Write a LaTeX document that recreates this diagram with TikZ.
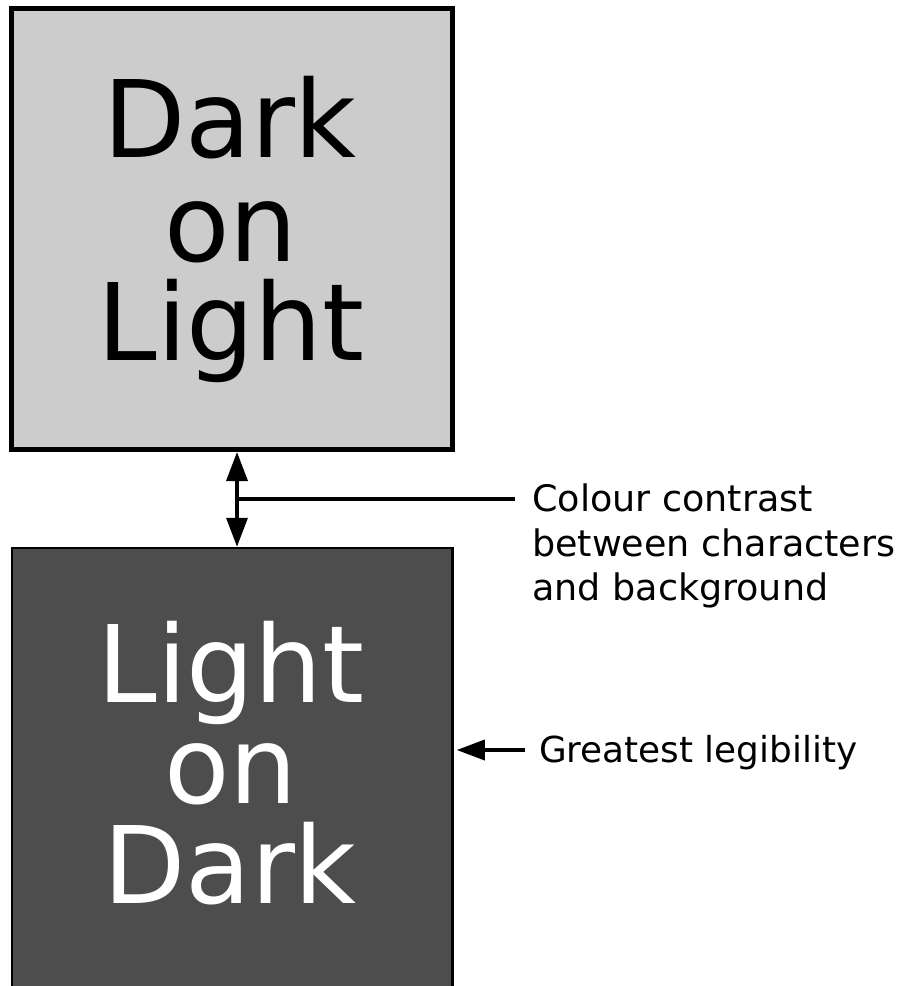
\documentclass[tikz,border=0pt]{standalone}
\usepackage{fontspec}
\setmainfont{DejaVu Sans}
\usetikzlibrary{arrows.meta}
\definecolor{lightfill}{HTML}{CCCCCC}
\definecolor{darkfill}{HTML}{4D4D4D}
\begin{document}
\begin{tikzpicture}[x=1pt,y=-1pt,
  bigtxt/.style={inner sep=0pt, anchor=base, font=\fontsize{107}{107}\selectfont},
  lbl/.style={inner sep=0pt, anchor=base west, font=\fontsize{36.5}{36.5}\selectfont},
  lblg/.style={inner sep=0pt, anchor=base west, font=\fontsize{35.8}{35.8}\selectfont},
  tipend/.style={-{Triangle[length=28pt,width=20pt]}},
  tipboth/.style={{Triangle[length=29pt,width=21pt]}-{Triangle[length=29pt,width=21pt]}},
  conn/.style={line width=3.5pt}]
\useasboundingbox (0,0) rectangle (902,986);
\clip (0,0) rectangle (902,986);
% boxes
\node[draw, line width=5pt, fill=lightfill, minimum width=441pt, minimum height=441pt, inner sep=0pt] (top) at (232,229) {};
\node[draw, line width=2.5pt, fill=darkfill, minimum width=440.5pt, minimum height=462pt, inner sep=0pt] (bot) at (232.25,779) {};
% texts in boxes
\node[bigtxt] (t1) at (230,157) {Dark};
\node[bigtxt] (t2) at (231,261) {on};
\node[bigtxt] (t3) at (231,360) {Light};
\node[bigtxt, text=white] (b1) at (231,702) {Light};
\node[bigtxt, text=white] (b2) at (231,803) {on};
\node[bigtxt, text=white] (b3) at (230,903) {Dark};
% labels
\node[lbl] (c1) at (532,511) {Colour contrast};
\node[lbl] (c2) at (532,556) {between characters};
\node[lbl] (c3) at (532,600) {and background};
\node[lblg] (g) at (539,762) {Greatest legibility};
% connectors
\coordinate (ax) at (237,499);
\draw[conn, tipboth] (ax |- top.south) -- (ax |- bot.north);
\draw[conn] (ax) -- ([xshift=-17pt]c1.west |- ax);
\coordinate (gy) at (0,750);
\draw[conn, tipend, shorten >=3pt] ([xshift=-14pt]g.west |- gy) -- (bot.east |- gy);
\end{tikzpicture}
\end{document}
